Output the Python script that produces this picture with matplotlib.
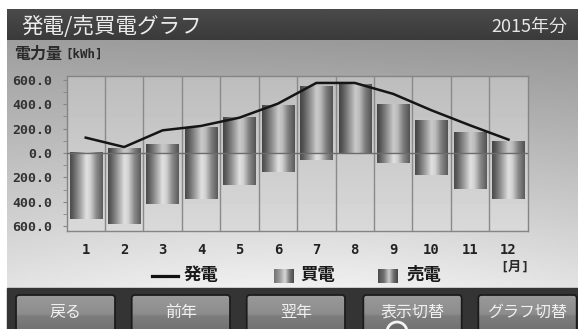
import numpy as np
import matplotlib.pyplot as plt
from matplotlib.patches import FancyBboxPatch, Rectangle, Circle

plt.rcParams['font.family'] = ['Noto Sans CJK JP', 'DejaVu Sans']

# monthly values [kWh]
months = np.arange(1, 13)
month_labels = [str(m) for m in months]
gen = [126, 49, 186, 222, 290, 405, 575, 575, 485, 350, 227, 110]     # 発電
sold = [10, 40, 70, 210, 295, 395, 548, 568, 405, 268, 172, 98]       # 売電 (up)
bought = [538, 580, 421, 380, 265, 156, 60, 10, 79, 183, 292, 380]    # 買電 (down)
y_ticks = [-600, -400, -200, 0, 200, 400, 600]
y_minor = [-500, -300, -100, 100, 300, 500]
buttons = ['戻る', '前年', '翌年', '表示切替', 'グラフ切替']
btn_x = [(16, 115), (131.7, 230), (246.7, 345), (363.3, 461.7), (478.3, 576.7)]

W, H = 578, 329
fig = plt.figure(figsize=(W / 100, H / 100), dpi=100)

# whole screen drawn in pixel coords
bg = fig.add_axes([0, 0, 1, 1])
bg.set_xlim(0, W)
bg.set_ylim(H, 0)
bg.axis('off')

# light gray panel behind the chart
yy, xx = np.mgrid[0:1:120j, 0:1:200j]
panel = 0.62 + 0.27 * yy + 0.05 * np.sin(np.pi * xx) * yy - 0.03 * xx * (1 - yy)
bg.imshow(panel, cmap='gray', vmin=0, vmax=1, extent=[7.3, W, 288, 40.5],
          aspect='auto', interpolation='bilinear', zorder=0)

# dark header
head = np.linspace(0.29, 0.23, 30)[:, None] * np.ones((1, 10))
bg.imshow(head, cmap='gray', vmin=0, vmax=1, extent=[7.3, W, 40.5, 10],
          aspect='auto', interpolation='bilinear', zorder=0)
bg.text(21, 26.5, '発電/売買電グラフ', color='#ececec', fontsize=15.5,
        va='center', ha='left')
bg.text(567, 26.5, '2015年分', color='#e6e6e6', fontsize=13,
        va='center', ha='right')

# axis title
bg.text(14, 54, '電力量', fontsize=11.5, fontweight='bold', color='#2a2a2a',
        va='center', ha='left')
bg.text(65, 54, '[kWh]', fontsize=9, fontweight='bold', color='#2a2a2a',
        va='center', ha='left', family='DejaVu Sans Mono')

# button bar
bg.add_patch(Rectangle((7.3, 287.5), W - 7.3, H - 287.5, color='#343434', zorder=1))
bgrad = np.concatenate([np.linspace(0.60, 0.55, 10), np.linspace(0.49, 0.43, 10)])[:, None]
for label, (x0, x1) in zip(buttons, btn_x):
    box = FancyBboxPatch((x0, 295), x1 - x0, 40, boxstyle='round,pad=0,rounding_size=3',
                         fc='none', ec='#1c1c1c', lw=1.3, zorder=3)
    bg.add_patch(box)
    im = bg.imshow(bgrad, cmap='gray', vmin=0, vmax=1, extent=[x0, x1, 335, 295],
                   aspect='auto', interpolation='bilinear', zorder=2)
    im.set_clip_path(box)
    bg.text((x0 + x1) / 2, 312, label, color='#f0f0f0', fontsize=11.5,
            ha='center', va='center', zorder=4)
bg.add_patch(Circle((397, 332), 10, fc='#6a6a6a', ec='#f2f2f2', lw=2, zorder=5))

# legend
bg.plot([151.7, 178.3], [275.5, 275.5], color='#111111', lw=2.3)
bg.text(184, 275.5, '発電', fontsize=12.5, fontweight='bold', color='#1a1a1a',
        va='center', ha='left')
sw_pos = np.linspace(0, 1, 40)
sw_buy = np.interp(sw_pos, [0, .3, .55, .8, 1], [.45, .62, .85, .45, .30])[None, :]
sw_sell = np.interp(sw_pos, [0, .3, .55, .8, 1], [.30, .45, .80, .42, .28])[None, :]
bg.imshow(sw_buy, cmap='gray', vmin=0, vmax=1, extent=[274, 294, 283.3, 269.3],
          aspect='auto', interpolation='bilinear')
bg.text(300.5, 275.5, '買電', fontsize=12.5, fontweight='bold', color='#1a1a1a',
        va='center', ha='left')
bg.imshow(sw_sell, cmap='gray', vmin=0, vmax=1, extent=[377.7, 397.7, 283.3, 269.3],
          aspect='auto', interpolation='bilinear')
bg.text(406.5, 275.5, '売電', fontsize=12.5, fontweight='bold', color='#1a1a1a',
        va='center', ha='left')
bg.text(515, 267, '[月]', fontsize=9.5, fontweight='bold', color='#2a2a2a',
        va='center', ha='center', family=['DejaVu Sans Mono', 'Noto Sans CJK JP'])

# the chart itself
left, right, top, bottom = 66.5, 527.7, 75.5, 230.5
ax = fig.add_axes([left / W, 1 - bottom / H, (right - left) / W, (bottom - top) / H])
ax.set_facecolor('none')
plot_bg = np.linspace(0.74, 0.85, 50)[:, None] * np.ones((1, 10))
ax.imshow(plot_bg, cmap='gray', vmin=0, vmax=1, extent=[0, 1, 0, 1], origin='upper',
          transform=ax.transAxes, aspect='auto', interpolation='bilinear', zorder=0)

# cylinder shading for bars
pos = np.linspace(0, 1, 60)
cyl = np.interp(pos, [0, .1, .3, .5, .62, .8, 1], [.30, .38, .62, .88, .82, .55, .36])
sell_bars = ax.bar(months, sold, width=0.84, color='none', zorder=2)
buy_bars = ax.bar(months, [-b for b in bought], width=0.84, color='none', zorder=2)
for bars, shade in [(sell_bars, 0.9), (buy_bars, 1.0)]:
    for p in bars.patches:
        bx, by, bw, bh = p.get_x(), p.get_y(), p.get_width(), p.get_height()
        im = ax.imshow((cyl * shade)[None, :], cmap='gray', vmin=0, vmax=1,
                       extent=[bx, bx + bw, by, by + bh], aspect='auto',
                       interpolation='bilinear', zorder=2)
        im.set_clip_path(p)

ax.axhline(0, color='#6c6c6c', lw=1, zorder=3)
ax.plot(months, gen, color='#151515', lw=1.8, zorder=4)

ax.set_xlim(0.5, 12.5)
ax.set_ylim(-636, 636)
ax.set_xticks(months, month_labels, fontfamily='DejaVu Sans Mono', fontweight='bold')
ax.set_xticks(np.arange(1.5, 12.5, 1), minor=True)
ax.grid(which='minor', axis='x', color='#8a8a8a', lw=1)
ax.set_axisbelow(True)
ax.set_yticks(y_ticks, ['%.1f' % abs(v) for v in y_ticks],
              fontfamily='DejaVu Sans Mono', fontweight='bold')
ax.set_yticks(y_minor, minor=True)
ax.tick_params(axis='x', which='both', length=0, pad=9, labelsize=10, labelcolor='#222222')
ax.tick_params(axis='y', which='both', direction='out', length=3, color='#858585',
               pad=7, labelsize=9.5, labelcolor='#333333')
for s in ax.spines.values():
    s.set_color('#858585')
    s.set_linewidth(1)

fig.savefig('out.png', dpi=100)
